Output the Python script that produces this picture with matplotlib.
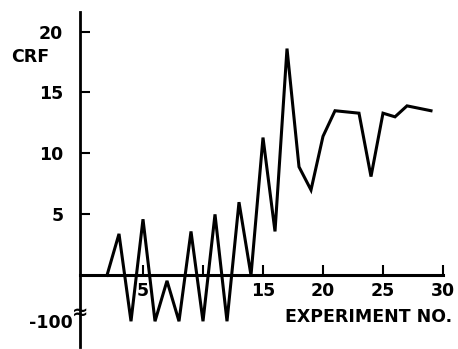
import numpy as np
import matplotlib
matplotlib.use('Agg')
import matplotlib.pyplot as plt
import matplotlib.transforms as mtransforms

# CRF per experiment (values below zero sit on the broken part of the axis)
experiment = [2, 3, 4, 5, 6, 7, 8, 9, 10, 11, 12, 13, 14,
              15, 16, 17, 18, 19, 20, 21, 22, 23, 24, 25, 26, 27, 28, 29]
crf = [0, 3.4, -100, 4.6, -100, -12, -100, 3.6, -100, 5.0, -100, 6.0, 0,
       11.3, 3.6, 18.6, 8.9, 7.0, 11.4, 13.5, 13.4, 13.3, 8.1, 13.3, 13.0, 13.9, 13.7, 13.5]

x_ticks = [5, 10, 15, 20, 25, 30]
x_ticklabels = ['5', '', '15', '20', '25', '30']
y_ticks = [-100, 5, 10, 15, 20]
y_ticklabels = ['-100', '5', '10', '15', '20']

K = 0.0377  # compression below zero


def fwd(y):
    y = np.asarray(y, dtype=float)
    return np.where(y >= 0, y, y * K)


def inv(y):
    y = np.asarray(y, dtype=float)
    return np.where(y >= 0, y, y / K)


fig = plt.figure(figsize=(4.58, 3.49), dpi=100)
ax = fig.add_axes([80 / 458, 2 / 349, (443 - 80) / 458, (347 - 12) / 349])
ax.set_yscale('function', functions=(fwd, inv))
ax.plot(experiment, crf, color='black', linewidth=2.2, solid_joinstyle='miter')

ax.set_xlim(-0.25, 30)
ax.set_ylim(-156, 21.6)

ax.spines['top'].set_visible(False)
ax.spines['right'].set_visible(False)
ax.spines['bottom'].set_position(('data', 0))
ax.spines['bottom'].set_linewidth(2.2)
ax.spines['left'].set_linewidth(2.0)

ax.set_xticks(x_ticks)
ax.set_xticklabels(x_ticklabels)
ax.set_yticks(y_ticks)
ax.set_yticklabels(y_ticklabels)
ax.minorticks_off()
ax.tick_params(axis='x', direction='in', length=7, width=1.5, pad=5, labelsize=12.5)
ax.tick_params(axis='y', direction='in', length=7, width=1.5, pad=12, labelsize=12.5)
for lab in ax.get_xticklabels() + ax.get_yticklabels():
    lab.set_fontweight('bold')

# the -100 tick: no tick line, label pulled in against the break mark
ax.yaxis.get_major_ticks()[0].tick1line.set_visible(False)
lab100 = ax.get_yticklabels()[0]
lab100.set_transform(lab100.get_transform() +
                     mtransforms.ScaledTranslation(9 / 100, 0, fig.dpi_scale_trans))

# axis break mark
ax.text(0.0, -80, '\u2248', transform=ax.get_yaxis_transform(), ha='center', va='center',
        fontsize=14, fontweight='bold')

fig.text(30 / 458, 1 - 57 / 349, 'CRF', ha='center', va='center', fontsize=12.5, fontweight='bold')
fig.text(452 / 458, 1 - 317 / 349, 'EXPERIMENT NO.', ha='right', va='center',
         fontsize=12.5, fontweight='bold')

fig.savefig('out.png', dpi=100)
